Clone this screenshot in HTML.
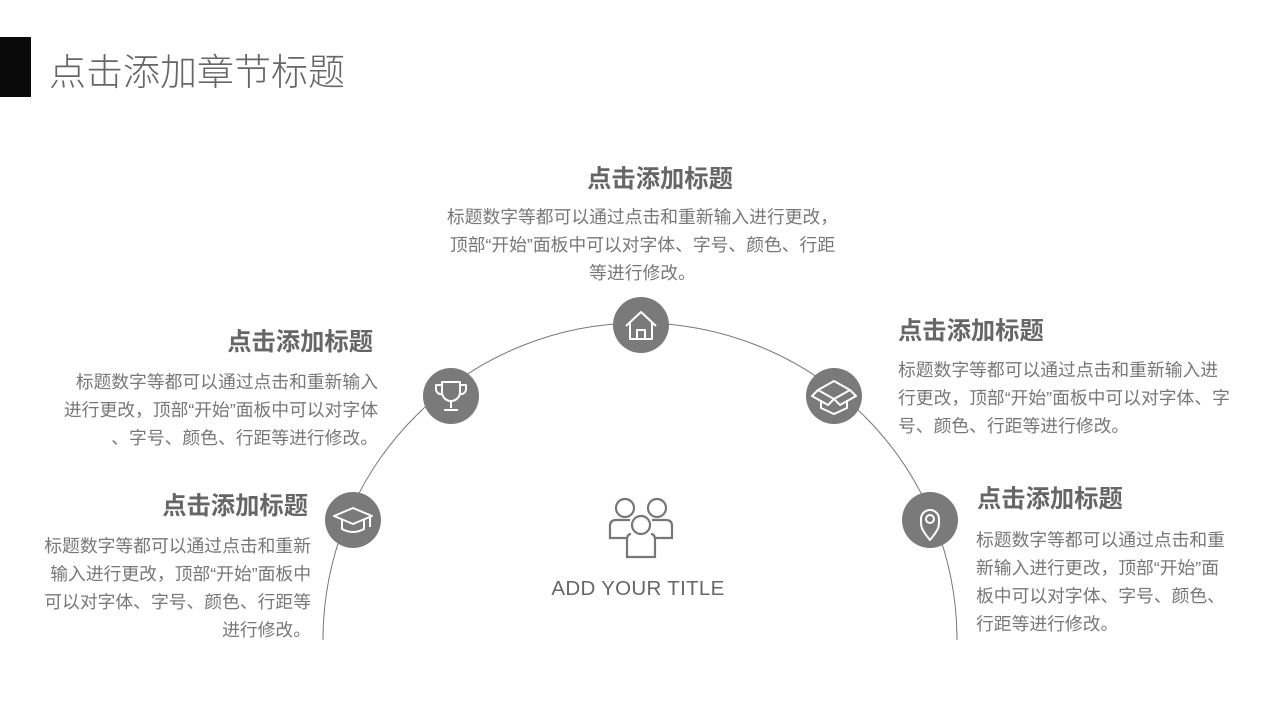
<!DOCTYPE html>
<html><head><meta charset="utf-8"><style>
body{margin:0;width:1280px;height:720px;background:#fff;position:relative;overflow:hidden;font-family:"Liberation Sans","Noto Sans CJK SC",sans-serif;}
.a{position:absolute;}
.h{font-size:24.3px;font-weight:bold;color:#666;line-height:30px;white-space:nowrap;}
.p{font-size:17.8px;color:#777;line-height:28px;white-space:nowrap;}
.r{text-align:right;}
.c{text-align:center;}
</style></head><body>
<div class="a" style="left:0;top:37px;width:31px;height:60px;background:#0a0a0a"></div>
<div class="a" style="left:49px;top:42px;font-size:37px;color:#666;font-weight:300;white-space:nowrap">点击添加章节标题</div>
<svg class="a" style="left:0;top:0" width="1280" height="720">
<path d="M323 640 A317 317 0 0 1 957 640" fill="none" stroke="#777" stroke-width="1"/>
<g fill="#7a7a7a">
<circle cx="641" cy="325" r="28"/><circle cx="451" cy="396" r="28"/><circle cx="834" cy="396" r="28"/>
<circle cx="353" cy="520" r="28"/><circle cx="930" cy="520" r="28"/>
</g>
<g fill="none" stroke="#fff" stroke-width="2" stroke-linejoin="round">
<path d="M626 326 L641 312 L656 326 M630 322 V339 H652 V322 M637 339 V330 H645 V339"/>
<path d="M442 382 H460 V392 A9 9 0 0 1 442 392 Z M442 385 H436 V389 A5 5 0 0 0 442 394 M460 385 H466 V389 A5 5 0 0 1 460 394 M451 401 V408 M444 410 H458"/>
<path d="M818 390 L834 381 L850 390 L834 399 Z M818 390 L812 396 L828 405 L834 399 L840 405 L856 396 L850 390 M821 400 V408 L834 414 L847 408 V400"/>
<path d="M334 516 L353 508 L372 516 L353 524 Z M342 520 V529 Q353 535 364 529 V520 M370 517 V527"/>
<path d="M930 540 C920 528 921 526 921 519 A9 9 0 0 1 939 519 C939 526 940 528 930 540 Z"/><circle cx="930" cy="519" r="4"/>
</g>
<g fill="none" stroke="#777" stroke-width="2.2">
<circle cx="625" cy="508" r="9"/><circle cx="657" cy="508" r="9"/><circle cx="641" cy="525" r="9"/>
<path d="M630 520 H616 Q610 520 610 526 V538 H628"/><path d="M652 520 H666 Q672 520 672 526 V538 H654"/>
<path d="M631 534 Q627 534 627 540 V557 H655 V540 Q655 534 651 534"/>
</g>
</svg>
<div class="a c" style="left:538px;top:577px;width:200px;font-size:20.5px;color:#666;letter-spacing:0.3px">ADD YOUR TITLE</div>

<div class="a h c" style="left:560px;top:165px;width:200px">点击添加标题</div>
<div class="a p c" style="left:400px;top:203px;width:485px">标题数字等都可以通过点击和重新输入进行更改，<br>顶部“开始”面板中可以对字体、字号、颜色、行距<br>等进行修改。</div>

<div class="a h r" style="left:173px;top:328px;width:200px">点击添加标题</div>
<div class="a p r" style="left:0px;top:368px;width:378px">标题数字等都可以通过点击和重新输入<br>进行更改，顶部“开始”面板中可以对字体<br>、字号、颜色、行距等进行修改。</div>

<div class="a h r" style="left:108px;top:492px;width:200px">点击添加标题</div>
<div class="a p r" style="left:0px;top:532px;width:311px">标题数字等都可以通过点击和重新<br>输入进行更改，顶部“开始”面板中<br>可以对字体、字号、颜色、行距等<br>进行修改。</div>

<div class="a h" style="left:898px;top:317px">点击添加标题</div>
<div class="a p" style="left:898px;top:356px">标题数字等都可以通过点击和重新输入进<br>行更改，顶部“开始”面板中可以对字体、字<br>号、颜色、行距等进行修改。</div>

<div class="a h" style="left:977px;top:485px">点击添加标题</div>
<div class="a p" style="left:976px;top:526px">标题数字等都可以通过点击和重<br>新输入进行更改，顶部“开始”面<br>板中可以对字体、字号、颜色、<br>行距等进行修改。</div>
</body></html>
